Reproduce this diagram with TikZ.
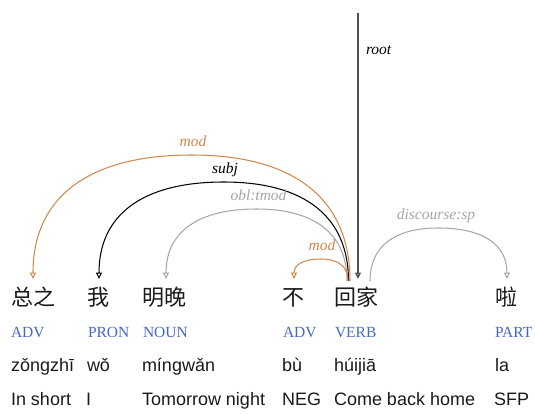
\documentclass[tikz,border=0pt]{standalone}
\usepackage{fontspec}
\setmainfont{Liberation Serif}
\setsansfont{Liberation Sans}
\newfontfamily\cjk{Noto Sans CJK SC}
\usetikzlibrary{arrows.meta,calc}
\definecolor{arcorange}{HTML}{D0884C}
\definecolor{arcgray}{HTML}{A6A6A6}
\definecolor{posblue}{HTML}{4568C8}
\definecolor{rootgray}{HTML}{505050}
\definecolor{txt}{HTML}{1A1A1A}
% head on the right, dependent on the left
\newcommand\depArcL[6]{\draw[deparc,#1] (#2) .. controls ($(#2)+(0,-#6)$) and ($(#3)+(#5,0)$) .. (#3) .. controls ($(#3)+(-#5,0)$) and ($(#4)+(0,-#6)$) .. (#4);}
% head on the left, dependent on the right
\newcommand\depArcR[6]{\draw[deparc,#1] (#2) .. controls ($(#2)+(0,-#6)$) and ($(#3)+(-#5,0)$) .. (#3) .. controls ($(#3)+(#5,0)$) and ($(#4)+(0,-#6)$) .. (#4);}
\begin{document}
\begin{tikzpicture}[x=1pt,y=-1pt,
  every node/.style={inner sep=0pt,outer sep=0pt},
  word/.style={anchor=base west,font=\cjk\fontsize{22}{26}\selectfont,text=txt},
  postag/.style={anchor=base west,font=\rmfamily\fontsize{15.5}{18}\selectfont,text=posblue},
  pin/.style={anchor=base west,font=\sffamily\fontsize{18}{21}\selectfont,text=txt},
  rel/.style={anchor=base,font=\rmfamily\itshape\fontsize{15.5}{18}\selectfont},
  deparc/.style={line width=1.05pt,-{Triangle[open,length=6.5pt,width=6pt]}},
]
\useasboundingbox (0,0) rectangle (535,413);
% words
\node[word] (w1) at (11,305) {总之};
\node[word] (w2) at (87,305) {我};
\node[word] (w3) at (142,305) {明晚};
\node[word] (w4) at (282,305) {不};
\node[word] (w5) at (334,305) {回家};
\node[word] (w6) at (495,305) {啦};
% POS
\node[postag] (p1) at (11,337) {ADV};
\node[postag] (p2) at (88,337) {PRON};
\node[postag] (p3) at (143,337) {NOUN};
\node[postag] (p4) at (283,337) {ADV};
\node[postag] (p5) at (335,337) {VERB};
\node[postag] (p6) at (495,337) {PART};
% pinyin
\node[pin] (y1) at (11,371) {zǒngzhī};
\node[pin] (y2) at (87,371) {wǒ};
\node[pin] (y3) at (142,371) {míngwǎn};
\node[pin] (y4) at (282,371) {bù};
\node[pin] (y5) at (334,371) {húijiā};
\node[pin] (y6) at (495,371) {la};
% gloss
\node[pin] (g1) at (11,405) {In short};
\node[pin] (g2) at (86,405) {I};
\node[pin] (g3) at (142,405) {Tomorrow night};
\node[pin] (g4) at (282,405) {NEG};
\node[pin] (g5) at (334,405) {Come back home};
\node[pin] (g6) at (494,405) {SFP};
% arc anchor points
\coordinate (hmod) at (350,281);
\coordinate (tmod) at (191.5,155);
\coordinate (dmod) at (33,279);
\coordinate (hsubj) at (348.5,281);
\coordinate (tsubj) at (223.75,182);
\coordinate (dsubj) at (99,279);
\coordinate (hobl) at (347,281);
\coordinate (tobl) at (256.5,209);
\coordinate (dobl) at (166,279);
\coordinate (hneg) at (348,281);
\coordinate (tneg) at (321,259);
\coordinate (dneg) at (294,279);
\coordinate (hdis) at (370,281);
\coordinate (tdis) at (438.5,228);
\coordinate (ddis) at (507,279);
\coordinate (rtop) at (358,13);
\coordinate (rbot) at (358,279);
% arcs
\depArcL{arcorange}{hmod}{tmod}{dmod}{103}{82}
\depArcL{black}{hsubj}{tsubj}{dsubj}{81}{64.4}
\depArcL{arcgray}{hobl}{tobl}{dobl}{58.8}{46.8}
\depArcL{arcorange}{hneg}{tneg}{dneg}{17.5}{14.3}
\depArcR{arcgray}{hdis}{tdis}{ddis}{44.5}{34.5}
\draw[line width=1.5pt,rootgray,-{Triangle[open,length=6.5pt,width=6pt]}] (rtop) -- (rbot);
% labels
\node[rel,text=arcorange] (lmod) at (193,146) {mod};
\node[rel,text=black] (lsubj) at (225,173) {subj};
\node[rel,text=arcgray] (lobl) at (258.5,200) {obl:tmod};
\node[rel,text=arcorange] (lneg) at (322,250) {mod};
\node[rel,text=arcgray] (ldis) at (436,219) {discourse:sp};
\node[rel,anchor=base west,text=black] (lroot) at (366,54) {root};
\end{tikzpicture}
\end{document}
